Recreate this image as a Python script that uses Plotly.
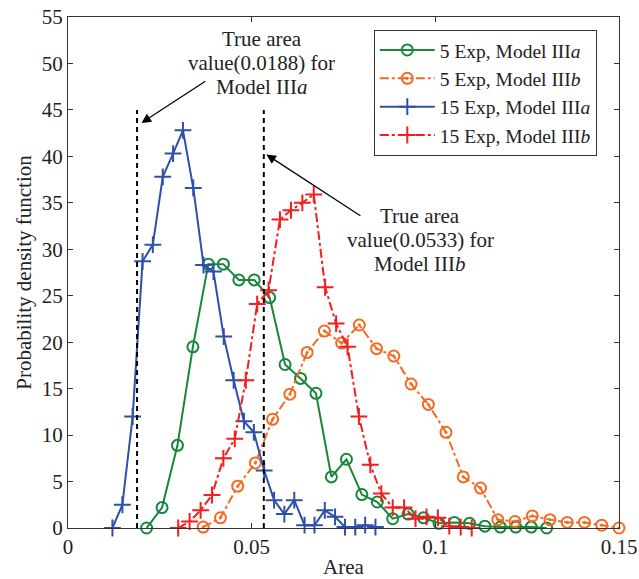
import plotly.graph_objects as go

# ---------------- data ----------------
x_5a = [0.0214, 0.0256, 0.0298, 0.0340, 0.0382, 0.0423, 0.0465, 0.0507, 0.0549,
        0.0591, 0.0633, 0.0675, 0.0717, 0.0758, 0.0800, 0.0842, 0.0884, 0.0926,
        0.0968, 0.1010, 0.1052, 0.1093, 0.1135, 0.1177, 0.1219, 0.1261, 0.1303]
y_5a = [0.0, 2.2, 8.9, 19.5, 28.4, 28.4, 26.7, 26.7, 24.8, 17.6, 16.1, 14.5, 5.5,
        7.4, 3.6, 2.8, 1.0, 1.5, 1.1, 0.5, 0.6, 0.5, 0.2, 0.1, 0.1, 0.1, 0.0]

x_5b = [0.0368, 0.0415, 0.0462, 0.0510, 0.0557, 0.0604, 0.0651, 0.0698, 0.0745,
        0.0793, 0.0840, 0.0887, 0.0934, 0.0981, 0.1029, 0.1076, 0.1123, 0.1170,
        0.1217, 0.1264, 0.1312, 0.1359, 0.1406, 0.1453, 0.1500]
y_5b = [0.1, 1.1, 4.5, 7.0, 11.7, 14.4, 18.9, 21.2, 19.9, 21.85, 19.3, 18.5, 15.5,
        13.3, 10.3, 5.5, 4.3, 0.9, 0.7, 1.3, 0.9, 0.6, 0.6, 0.3, 0.0]

x_15a = [0.0121, 0.0148, 0.0176, 0.0203, 0.0231, 0.0258, 0.0286, 0.0313, 0.0341,
         0.0369, 0.0396, 0.0424, 0.0451, 0.0479, 0.0506, 0.0534, 0.0561, 0.0589,
         0.0616, 0.0644, 0.0671, 0.0699, 0.0727, 0.0754, 0.0782, 0.0809, 0.0837]
y_15a = [0.0, 2.5, 12.0, 28.7, 30.5, 37.8, 40.3, 42.8, 36.6, 28.3, 27.6, 20.6, 15.9,
         11.5, 10.3, 6.2, 3.0, 1.5, 3.0, 0.3, 0.3, 1.9, 1.2, 0.1, 0.1, 0.3, 0.1]

x_15b = [0.0300, 0.0331, 0.0361, 0.0392, 0.0423, 0.0454, 0.0484, 0.0515, 0.0546,
         0.0577, 0.0607, 0.0638, 0.0669, 0.0700, 0.0730, 0.0761, 0.0792, 0.0823,
         0.0853, 0.0884, 0.0915, 0.0946, 0.0976, 0.1007, 0.1038, 0.1069, 0.1099]
y_15b = [0.0, 0.7, 1.9, 3.55, 7.5, 9.6, 15.9, 24.1, 25.6, 33.2, 34.2, 35.0, 35.9,
         25.9, 22.0, 19.5, 12.0, 6.8, 3.7, 2.2, 2.2, 1.0, 1.2, 1.1, 0.2, 0.1, 0.0]

series_names = ["5 Exp, Model III<i>a</i>", "5 Exp, Model III<i>b</i>",
                "15 Exp, Model III<i>a</i>", "15 Exp, Model III<i>b</i>"]

true_values = [0.0188, 0.0533]
true_line_top = 45
true_labels = [["True area", "value(0.0188) for", "Model III<i>a</i>"],
               ["True area", "value(0.0533) for", "Model III<i>b</i>"]]

x_ticks = [0, 0.05, 0.1, 0.15]
x_tick_text = ["0", "0.05", "0.1", "0.15"]
y_ticks = list(range(0, 56, 5))

# ---------------- styles ----------------
GREEN = "#17873a"
ORANGE = "#f26b21"
BLUE = "#2e4faa"
RED = "#f51d1d"
FONT = "Liberation Serif"
FS = 21
TXT = "#222"

fig = go.Figure()
styles = [
    (x_5a, y_5a, GREEN, "solid", "circle-open", 11),
    (x_5b, y_5b, ORANGE, "dashdot", "circle-open-dot", 11),
    (x_15a, y_15a, BLUE, "solid", "cross-thin-open", 12),
    (x_15b, y_15b, RED, "dashdot", "cross-thin-open", 12),
]
for (xs, ys, col, dash, sym, sz), name in zip(styles, series_names):
    fig.add_trace(go.Scatter(
        x=xs, y=ys, mode="lines+markers", name=name,
        line=dict(color=col, width=2, dash=dash),
        marker=dict(symbol=sym, size=sz, color=col, line=dict(width=2, color=col)),
        cliponaxis=False,
    ))

for v in true_values:
    fig.add_shape(type="line", xref="x", yref="y", x0=v, x1=v, y0=0, y1=true_line_top,
                  line=dict(color="black", width=2, dash="5px,4px"))

# arrows (tail -> head) and texts
arrows = [
    dict(head=(0.0200, 43.6), tail=(0.0378, 48.2)),
    dict(head=(0.0540, 40.2), tail=(0.0800, 33.5)),
]
text_pos = [(0.0527, 50.05), (0.0959, 31.0)]
LINE_GAP = 24

for a in arrows:
    fig.add_annotation(x=a["head"][0], y=a["head"][1], ax=a["tail"][0], ay=a["tail"][1],
                       xref="x", yref="y", axref="x", ayref="y", text="",
                       showarrow=True, arrowhead=2, arrowsize=1.6, arrowwidth=1.2,
                       arrowcolor="black", standoff=0, startstandoff=0)
for (tx, ty), lines in zip(text_pos, true_labels):
    for k, t in enumerate(lines):
        fig.add_annotation(x=tx, y=ty, xref="x", yref="y", text=t, showarrow=False,
                           yshift=LINE_GAP * (1 - k),
                           font=dict(family=FONT, size=FS, color=TXT), align="center")

axis_common = dict(showline=True, linecolor="#333", linewidth=1, mirror="ticks",
                   ticks="inside", ticklen=5, tickcolor="#333", showgrid=False,
                   zeroline=False, automargin=False,
                   tickfont=dict(family=FONT, size=FS, color=TXT))

fig.update_xaxes(range=[0, 0.15], tickvals=x_ticks, ticktext=x_tick_text,
                 title=dict(text="Area", font=dict(family=FONT, size=FS, color=TXT)),
                 **axis_common)
fig.update_yaxes(range=[0, 55], tickvals=y_ticks,
                 title=dict(text="Probability density function",
                            font=dict(family=FONT, size=FS, color=TXT), standoff=4),
                 **axis_common)

fig.update_layout(
    width=639, height=579,
    margin=dict(l=68, r=20, t=17, b=51),
    plot_bgcolor="white", paper_bgcolor="white",
    font=dict(family=FONT, size=FS, color=TXT),
    legend=dict(x=0.555, y=0.975, xanchor="left", yanchor="top",
                bordercolor="#333", borderwidth=1, bgcolor="white",
                font=dict(family=FONT, size=19.5, color=TXT),
                itemwidth=55, tracegroupgap=0),
    showlegend=True,
)

fig.write_html("out.html")
